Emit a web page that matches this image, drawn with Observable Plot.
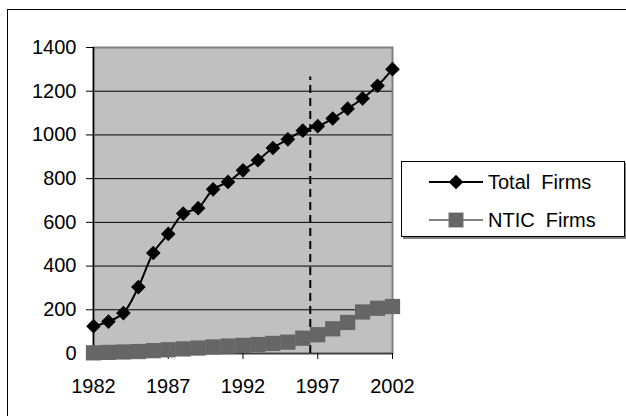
<!DOCTYPE html>
<html>
<head>
<meta charset="utf-8">
<script src="https://cdn.jsdelivr.net/npm/d3@7"></script>
<script src="https://cdn.jsdelivr.net/npm/@observablehq/plot@0.6"></script>
<style>
  html, body { margin: 0; padding: 0; background: #fff; }
  #wrap { position: relative; width: 626px; height: 416px; overflow: hidden; background: #fff;
          font-family: "Liberation Sans", Arial, sans-serif; }
  #outer { position: absolute; left: 7px; top: 9px; width: 700px; height: 500px;
           border-top: 1.5px solid #000; border-left: 1.5px solid #000; pointer-events: none; }
  #legend { position: absolute; left: 401px; top: 161px; width: 222px; height: 74px;
            border: 1px solid #000; background: #fff; box-shadow: 2px 2px 0 #808080; }
  #legend svg { position: absolute; left: 0; top: 0; }
</style>
</head>
<body>
<div id="wrap">
  <div id="chart"></div>
  <div id="outer"></div>
  <div id="legend"></div>
</div>
<script>
const years = [1982,1983,1984,1985,1986,1987,1988,1989,1990,1991,1992,1993,1994,1995,1996,1997,1998,1999,2000,2001,2002];
const totalFirms = [125,146,185,304,460,547,640,665,751,785,838,884,940,980,1020,1040,1075,1120,1167,1225,1301];
const nticFirms = [3,5,7,9,13,17,21,25,30,34,37,41,46,52,70,86,113,142,190,207,215];
const seriesNames = ["Total  Firms", "NTIC  Firms"];
const xTicks = [1982,1987,1992,1997,2002];
const yTicks = [0,200,400,600,800,1000,1200,1400];
const gridValues = [200,400,600,800,1000,1200];
const cutoffYear = 1996.5;
const cutoffTop = 1265;

const total = years.map((y, i) => ({year: y, value: totalFirms[i]}));
const ntic = years.map((y, i) => ({year: y, value: nticFirms[i]}));

const chart = Plot.plot({
  width: 626,
  height: 416,
  marginLeft: 93,
  marginRight: 234,
  marginTop: 47,
  marginBottom: 63,
  style: {fontFamily: '"Liberation Sans", Arial, sans-serif', fontSize: "20px", background: "transparent", color: "#000", overflow: "visible"},
  x: {domain: [1982, 2002], label: null},
  y: {domain: [0, 1400], label: null},
  marks: [
    Plot.frame({fill: "#C0C0C0", stroke: null}),
    Plot.ruleY(gridValues, {stroke: "#000", strokeWidth: 1}),
    Plot.frame({stroke: "#808080", strokeWidth: 2}),
    Plot.ruleX([1982], {stroke: "#000", strokeWidth: 1.5}),
    Plot.ruleY([0], {stroke: "#404040", strokeWidth: 1.5}),
    Plot.axisY({ticks: yTicks, tickSize: 7, tickPadding: 10, tickFormat: d => String(d), stroke: "#000"}),
    Plot.axisX({ticks: xTicks, tickSize: 6, tickPadding: 19, tickFormat: d => String(d), stroke: "#000"}),
    Plot.ruleX([cutoffYear], {y1: 0, y2: cutoffTop, stroke: "#000", strokeWidth: 2, strokeDasharray: "8,5"}),
    Plot.line(ntic, {x: "year", y: "value", stroke: "#808080", strokeWidth: 2}),
    Plot.dot(ntic, {x: "year", y: "value", symbol: "square", r: 8.6, fill: "#666666", stroke: null}),
    Plot.line(total, {x: "year", y: "value", stroke: "#000", strokeWidth: 2, curve: "catmull-rom"}),
    Plot.dot(total, {x: "year", y: "value", symbol: "diamond2", r: 6.6, fill: "#000", stroke: null})
  ]
});
document.getElementById("chart").appendChild(chart);

// Legend
const lg = d3.select("#legend").append("svg").attr("width", 222).attr("height", 74);
const rows = [
  {name: seriesNames[0], line: "#000", sym: d3.symbolDiamond2, size: Math.PI * 6.6 * 6.6, fill: "#000"},
  {name: seriesNames[1], line: "#808080", sym: d3.symbolSquare, size: Math.PI * 8.4 * 8.4, fill: "#666666"}
];
rows.forEach((r, i) => {
  const cy = 20 + i * 38;
  lg.append("line").attr("x1", 27).attr("x2", 81).attr("y1", cy).attr("y2", cy)
    .attr("stroke", r.line).attr("stroke-width", 2);
  lg.append("path").attr("d", d3.symbol(r.sym, r.size)()).attr("transform", `translate(54,${cy})`)
    .attr("fill", r.fill);
  lg.append("text").attr("x", 86).attr("y", cy).attr("dy", "0.35em")
    .attr("font-family", '"Liberation Sans", Arial, sans-serif').attr("font-size", 20)
    .attr("fill", "#000").style("white-space", "pre").text(r.name);
});
</script>
</body>
</html>
